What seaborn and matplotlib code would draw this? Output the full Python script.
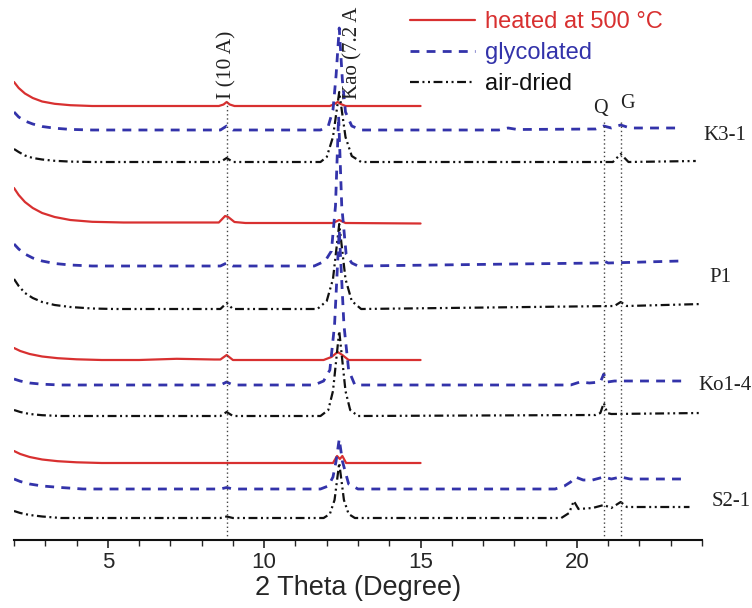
import matplotlib
matplotlib.use('Agg')
import matplotlib.pyplot as plt
import seaborn as sns
import pandas as pd
from matplotlib.ticker import MultipleLocator

sns.set_style('white')
plt.rcParams['font.family'] = ['Liberation Sans', 'DejaVu Sans']

samples = ['K3-1', 'P1', 'Ko1-4', 'S2-1']
treatments = ['heated at 500 °C', 'glycolated', 'air-dried']

# ---- diffraction traces (2θ, relative intensity) ----
k31_heated_x = [2.0, 2.15, 2.35, 2.6, 2.9, 3.3, 3.8, 4.5, 8.55, 8.7, 8.8, 8.9, 9.05, 12.1, 12.25, 12.35, 12.45, 12.6, 15.0]
k31_heated_y = [24, 18, 12.5, 8, 4.5, 2.2, 0.8, 0, 0, 1.5, 4, 1.5, 0, 0, 2, 4, 2, 0, 0]
k31_glyc_x = [2.0, 2.15, 2.35, 2.6, 2.9, 3.3, 3.8, 4.5, 8.6, 8.8, 9.0, 11.8, 12.05, 12.2, 12.3, 12.4, 12.5, 12.6, 12.8, 13.1, 17.5, 17.8, 18.1, 20.6, 20.86, 21.1, 21.4, 21.7, 23.3]
k31_glyc_y = [18, 13, 9, 6, 3.5, 1.8, 0.6, 0, 0, 4, 0, 0, 4, 20, 55, 102, 50, 18, 4, 0, 0, 2, 0.5, 1, 4, 2, 5, 2, 2]
k31_air_x = [2.0, 2.15, 2.35, 2.6, 2.9, 3.3, 3.8, 4.5, 8.6, 8.8, 9.0, 11.8, 12.0, 12.2, 12.4, 12.6, 12.8, 13.1, 21.15, 21.4, 21.65, 23.8]
k31_air_y = [13, 10, 6.5, 4, 2.5, 1.2, 0.4, 0, 0, 4, 0, 0, 5, 25, 70, 25, 6, 0, 0, 8, 0, 1]

p1_heated_x = [2.0, 2.15, 2.35, 2.6, 2.9, 3.3, 3.8, 4.5, 5.5, 8.55, 8.75, 8.85, 9.05, 9.4, 12.2, 12.4, 12.6, 15.0]
p1_heated_y = [35, 28, 21, 15, 10, 6, 3, 1.2, 0.5, 0.5, 7, 6, 1, 0, 0, 3, 0, -0.5]
p1_glyc_x = [2.0, 2.15, 2.35, 2.6, 2.9, 3.3, 3.8, 4.5, 8.6, 8.8, 9.0, 11.6, 11.95, 12.15, 12.28, 12.38, 12.48, 12.62, 12.8, 13.0, 18.0, 20.7, 20.86, 21.0, 23.3]
p1_glyc_y = [22, 17, 12, 8, 5, 2.5, 1, 0, 0, 3, 0, 0, 5, 15, 60, 150, 60, 12, 3, 0, 2, 3, 5, 3, 5]
p1_air_x = [2.0, 2.15, 2.35, 2.6, 2.9, 3.3, 3.8, 4.5, 5.2, 8.6, 8.8, 9.0, 11.7, 12.0, 12.2, 12.4, 12.6, 12.8, 13.1, 21.2, 21.4, 21.6, 24.0]
p1_air_y = [30, 23, 16, 11, 7, 4, 2, 0.5, 0, 0, 6, 0, 0, 8, 30, 85, 30, 8, 0, 3, 7, 3, 5]

ko14_heated_x = [2.0, 2.2, 2.5, 2.9, 3.4, 4.0, 4.8, 6.0, 7.2, 8.4, 8.6, 8.8, 9.0, 11.9, 12.15, 12.35, 12.5, 12.7, 15.0]
ko14_heated_y = [12, 9, 6, 3.5, 1.8, 0.7, 0, 0, 1.2, 0.5, 0.5, 5, 0, 0, 3, 8, 5, 0, 0]
ko14_glyc_x = [2.0, 2.2, 2.5, 2.9, 3.5, 8.6, 8.8, 9.0, 11.6, 11.9, 12.1, 12.25, 12.4, 12.55, 12.7, 12.9, 19.8, 20.1, 20.4, 20.75, 20.86, 20.97, 21.2, 23.4]
ko14_glyc_y = [6, 4, 2, 0.8, 0, 0, 3, 0, 0, 4, 15, 60, 155, 60, 15, 0, 0, 3, 2, 3, 11, 3, 4, 4]
ko14_air_x = [2.0, 2.2, 2.5, 2.9, 3.5, 8.6, 8.8, 9.0, 11.8, 12.05, 12.2, 12.4, 12.6, 12.75, 13.0, 20.6, 20.75, 20.86, 20.97, 21.1, 24.0]
ko14_air_y = [6, 4, 2, 0.8, 0, 0, 4, 0, 0, 6, 25, 85, 25, 6, 0, 1, 3, 13, 3, 2, 3]

s21_heated_x = [2.0, 2.2, 2.5, 2.9, 3.4, 4.0, 4.8, 12.2, 12.33, 12.42, 12.5, 12.62, 15.0]
s21_heated_y = [12, 9, 6, 3.5, 1.8, 0.7, 0, 0, 7, 4, 7, 0, 0]
s21_glyc_x = [2.0, 2.2, 2.5, 2.9, 3.5, 4.2, 8.6, 8.8, 9.0, 11.8, 12.05, 12.2, 12.3, 12.4, 12.5, 12.7, 13.0, 19.3, 19.6, 19.8, 19.95, 20.2, 20.5, 20.86, 21.1, 21.4, 21.7, 23.4]
s21_glyc_y = [10, 7.5, 5, 3, 1.5, 0, 0, 1.5, 0, 0, 3, 12, 28, 50, 28, 5, 0, 0, 3, 7, 12, 9, 9, 12, 10, 12, 10, 10]
s21_air_x = [2.0, 2.2, 2.5, 2.9, 3.5, 8.6, 8.8, 9.0, 11.9, 12.1, 12.25, 12.4, 12.55, 12.7, 12.9, 19.5, 19.75, 19.9, 20.05, 20.5, 20.86, 21.1, 21.4, 21.6, 23.6]
s21_air_y = [7, 5, 3, 1.5, 0, 0, 1.5, 0, 0, 4, 18, 55, 18, 4, 0, 0, 5, 17, 9, 10, 13, 10, 16, 11, 11]

# vertical stacking offsets of each trace
stack_offsets = {
    'K3-1': [434, 410, 378],
    'P1': [317, 274, 231],
    'Ko1-4': [180, 155, 124],
    'S2-1': [77, 51, 22],
}

# reference lines (2θ) and annotations
ref_lines = [8.8, 20.86, 21.4]
ref_tops = [438, 418, 420]

traces = {
    'K3-1': [(k31_heated_x, k31_heated_y), (k31_glyc_x, k31_glyc_y), (k31_air_x, k31_air_y)],
    'P1': [(p1_heated_x, p1_heated_y), (p1_glyc_x, p1_glyc_y), (p1_air_x, p1_air_y)],
    'Ko1-4': [(ko14_heated_x, ko14_heated_y), (ko14_glyc_x, ko14_glyc_y), (ko14_air_x, ko14_air_y)],
    'S2-1': [(s21_heated_x, s21_heated_y), (s21_glyc_x, s21_glyc_y), (s21_air_x, s21_air_y)],
}

rows = []
for s in samples:
    for t, (xs, ys), off in zip(treatments, traces[s], stack_offsets[s]):
        for xv, yv in zip(xs, ys):
            rows.append({'two_theta': xv, 'intensity': yv + off, 'sample': s, 'treatment': t})
df = pd.DataFrame(rows)

colors = {'heated at 500 °C': '#d83030', 'glycolated': '#3333aa', 'air-dried': '#111111'}
styles = {'heated at 500 °C': '-', 'glycolated': (0, (3.2, 2.6)), 'air-dried': (0, (4, 1.6, 0.9, 1.6, 0.9, 1.6))}
widths = {'heated at 500 °C': 1.6, 'glycolated': 2.0, 'air-dried': 1.6}

fig = plt.figure(figsize=(7.52, 6.08), dpi=100)
ax = fig.add_axes([14 / 752, (608 - 540) / 608, (702 - 14) / 752, 540 / 608])

handles = {}
for s in samples:
    for t in treatments:
        sub = df[(df['sample'] == s) & (df['treatment'] == t)]
        sns.lineplot(data=sub, x='two_theta', y='intensity', ax=ax, estimator=None, sort=False,
                     color=colors[t], linestyle=styles[t], linewidth=widths[t])
        line = ax.lines[-1]
        if t not in handles:
            handles[t] = line

ax.vlines(ref_lines, 0, ref_tops, colors='#444444', linestyles=(0, (1, 2.0)), linewidth=1.0)

serif = ['Liberation Serif', 'DejaVu Serif']
ax.text(8.8, 441, 'I (10 A)', rotation=90, ha='center', va='bottom', fontsize=15.5, family=serif, color='#222222')
ax.text(12.83, 441, 'Kao (7.2 A', rotation=90, ha='center', va='bottom', fontsize=15, family=serif, color='#222222')
ax.text(20.75, 431, 'Q', ha='center', va='center', fontsize=14.5, family=serif, color='#222222')
ax.text(21.62, 436, 'G', ha='center', va='center', fontsize=14.5, family=serif, color='#222222')

label_pos = {'K3-1': (24.05, 405), 'P1': (24.25, 263), 'Ko1-4': (23.9, 154), 'S2-1': (24.3, 39)}
for s in samples:
    lx, ly = label_pos[s]
    ax.text(lx, ly, s, ha='left', va='center', fontsize=15, family=serif, color='#222222', clip_on=False)

leg = ax.legend([handles[t] for t in treatments], treatments, loc='upper left',
                bbox_to_anchor=(410 / 752, 1 - 11 / 608), bbox_transform=fig.transFigure,
                frameon=False, fontsize=17, handlelength=2.75, handletextpad=0.42,
                labelspacing=0.38, borderpad=0, borderaxespad=0, labelcolor='linecolor')

ax.set_xlim(2, 24)
ax.set_ylim(0, 540)
ax.set_yticks([])
ax.set_ylabel('')
ax.set_xlabel('2 Theta (Degree)', fontsize=19.5, labelpad=1)
ax.xaxis.set_major_locator(MultipleLocator(5))
ax.xaxis.set_minor_locator(MultipleLocator(1))
ax.tick_params(axis='x', which='major', direction='out', length=6, width=1.2, labelsize=16, pad=3, bottom=True)
ax.tick_params(axis='x', which='minor', direction='out', length=4, width=1.0, bottom=True)
for sp in ['left', 'right', 'top']:
    ax.spines[sp].set_visible(False)
ax.spines['bottom'].set_linewidth(1.5)
ax.spines['bottom'].set_color('#111111')
ax.patch.set_alpha(0)

fig.savefig('out.png', dpi=100)
